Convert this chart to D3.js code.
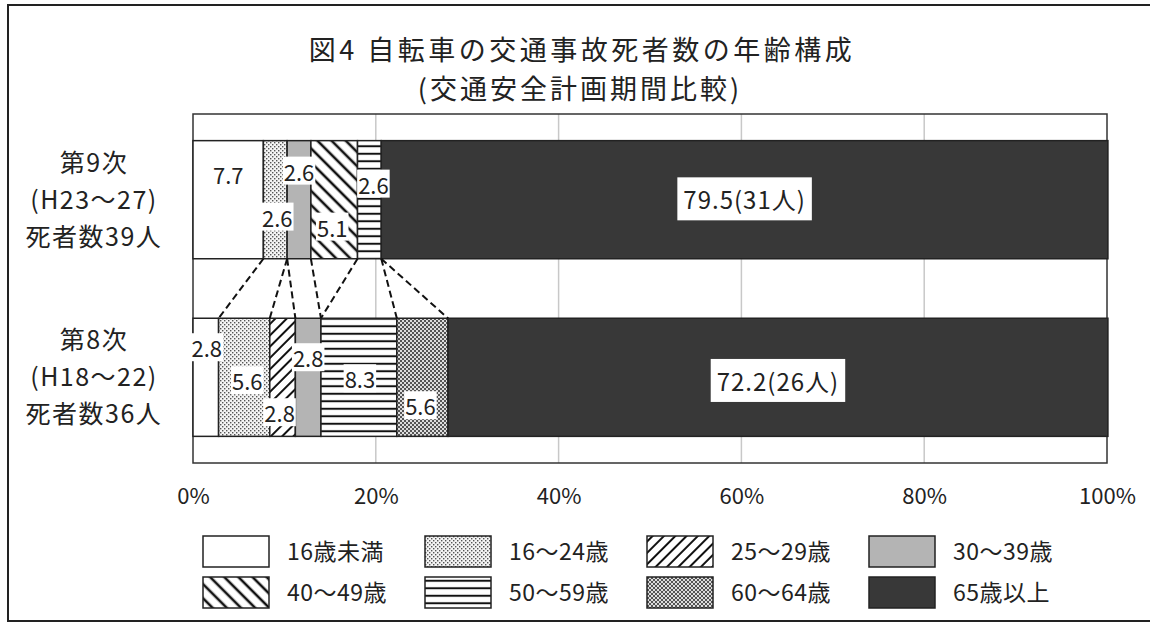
<!DOCTYPE html>
<meta charset="utf-8">
<body style="margin:0;background:#fff">
<script src="https://d3js.org/d3.v7.min.js"></script>
<script>

// Data: share of cyclist deaths by age group (%), per traffic safety plan period.

var periods = ["第9次", "第8次"];
var periodLines = [
    ["第9次", "(H23～27)", "死者数39人"],
    ["第8次", "(H18～22)", "死者数36人"]
];
var ageGroups = ["16歳未満", "16～24歳", "25～29歳", "30～39歳", "40～49歳", "50～59歳", "60～64歳", "65歳以上"];
var values9 = [7.7, 2.6, 0, 2.6, 5.1, 2.6, 0, 79.5];
var values8 = [2.8, 5.6, 2.8, 2.8, 0, 8.3, 5.6, 72.2];
var lastLabels = ["79.5(31人)", "72.2(26人)"];
var xTicks = [0, 20, 40, 60, 80, 100];

// Hand placed label nudges (px from segment centre), like the moved labels in the original.
var nudge9 = [[0, -24], [2, 19], null, [0, -27], [-2, 29], [4, -14], null, [0, 1]];
var nudge8 = [[1, -28], [3, 5], [-3, 37], [0, -18], null, [1, 3], [-2, 30], [0, 5]];

var width = 1150,
    height = 623;

var svg = d3.select("body").append("svg")
    .attr("width", width)
    .attr("height", height)
    .style("font-family", "'Noto Sans CJK JP', sans-serif");

// Patterns for the age groups.

var defs = svg.append("defs");

function linePattern(id, angle, gap, sw) {
    var p = defs.append("pattern")
        .attr("id", id)
        .attr("patternUnits", "userSpaceOnUse")
        .attr("width", gap)
        .attr("height", gap)
        .attr("patternTransform", "rotate(" + angle + ")");
    p.append("rect").attr("width", gap).attr("height", gap).attr("fill", "#fff");
    p.append("line")
        .attr("x1", gap / 2).attr("y1", 0)
        .attr("x2", gap / 2).attr("y2", gap)
        .attr("stroke", "#111")
        .attr("stroke-width", sw);
}

var dots = defs.append("pattern")
    .attr("id", "dots")
    .attr("patternUnits", "userSpaceOnUse")
    .attr("width", 4).attr("height", 4);
dots.append("rect").attr("width", 4).attr("height", 4).attr("fill", "#f4f4f4");
dots.append("rect").attr("x", 0).attr("y", 0).attr("width", 1.4).attr("height", 1.4).attr("fill", "#555");
dots.append("rect").attr("x", 2).attr("y", 2).attr("width", 1.4).attr("height", 1.4).attr("fill", "#555");

linePattern("fwd", 45, 8, 2);
linePattern("back", -45, 10, 2.6);
linePattern("horiz", 90, 7.5, 2);

var check = defs.append("pattern")
    .attr("id", "check")
    .attr("patternUnits", "userSpaceOnUse")
    .attr("width", 4).attr("height", 4);
check.append("rect").attr("width", 4).attr("height", 4).attr("fill", "#ddd");
check.append("rect").attr("x", 0).attr("y", 0).attr("width", 2).attr("height", 2).attr("fill", "#555");
check.append("rect").attr("x", 2).attr("y", 2).attr("width", 2).attr("height", 2).attr("fill", "#555");

var fills = ["#fff", "url(#dots)", "url(#fwd)", "#b4b4b4", "url(#back)", "url(#horiz)", "url(#check)", "#383838"];

// Outer frame.

svg.append("path")
    .attr("d", "M1150,5H8V621H1150")
    .attr("fill", "none")
    .attr("stroke", "#222")
    .attr("stroke-width", 2);

// Title.

svg.append("text")
    .attr("x", 582).attr("y", 60)
    .attr("text-anchor", "middle")
    .attr("font-size", 27)
    .attr("letter-spacing", 3.5)
    .attr("fill", "#222")
    .text("図4  自転車の交通事故死者数の年齢構成");

svg.append("text")
    .attr("x", 580).attr("y", 99)
    .attr("text-anchor", "middle")
    .attr("font-size", 27)
    .attr("letter-spacing", 3)
    .attr("fill", "#222")
    .text("(交通安全計画期間比較)");

// Scales.

var plot = {left: 193, right: 1107, top: 114, bottom: 463};

var x = d3.scaleLinear().domain([0, 100]).range([plot.left, plot.right]);
var y = d3.scaleBand().domain(periods).range([plot.top, plot.bottom])
    .paddingInner(0.335)
    .paddingOuter(0.15);

// Plot area and gridlines.

svg.append("rect")
    .attr("x", plot.left).attr("y", plot.top)
    .attr("width", plot.right - plot.left)
    .attr("height", plot.bottom - plot.top)
    .attr("fill", "#fff");

svg.append("g").selectAll("line")
    .data(xTicks.slice(1, -1))
    .join("line")
    .attr("x1", function(d) { return x(d); })
    .attr("x2", function(d) { return x(d); })
    .attr("y1", plot.top).attr("y2", plot.bottom)
    .attr("stroke", "#c8c8c8")
    .attr("stroke-width", 1.5);

svg.append("rect")
    .attr("x", plot.left).attr("y", plot.top)
    .attr("width", plot.right - plot.left)
    .attr("height", plot.bottom - plot.top)
    .attr("fill", "none")
    .attr("stroke", "#333")
    .attr("stroke-width", 1.5);

// Stack the values.

var rows = [values9, values8];
var nudges = [nudge9, nudge8];

var segs = [];
rows.forEach(function(vals, r) {
    var acc = 0;
    vals.forEach(function(v, i) {
        segs.push({row: r, i: i, v: v, x0: acc, x1: acc + v});
        acc += v;
    });
});

svg.append("g").selectAll("rect")
    .data(segs.filter(function(d) { return d.v > 0; }))
    .join("rect")
    .attr("x", function(d) { return x(d.x0); })
    .attr("width", function(d) { return x(d.x1) - x(d.x0); })
    .attr("y", function(d) { return y(periods[d.row]); })
    .attr("height", y.bandwidth())
    .attr("fill", function(d) { return fills[d.i]; })
    .attr("stroke", "#222")
    .attr("stroke-width", 1.5);

// Series lines between the two bars.

var ends9 = segs.filter(function(d) { return d.row == 0; });
var ends8 = segs.filter(function(d) { return d.row == 1; });

svg.append("g").selectAll("line")
    .data(d3.range(ageGroups.length - 1))
    .join("line")
    .attr("x1", function(i) { return x(ends9[i].x1); })
    .attr("y1", y(periods[0]) + y.bandwidth())
    .attr("x2", function(i) { return x(ends8[i].x1); })
    .attr("y2", y(periods[1]))
    .attr("stroke", "#111")
    .attr("stroke-width", 2)
    .attr("stroke-dasharray", "7,4");

// Data labels with white boxes.

var labels = svg.append("g");

segs.forEach(function(d) {
    if (d.v <= 0) return;
    var n = nudges[d.row][d.i];
    var big = d.i == ageGroups.length - 1;
    var cx = (x(d.x0) + x(d.x1)) / 2 + n[0];
    var cy = y(periods[d.row]) + y.bandwidth() / 2 + n[1];
    var g = labels.append("g").attr("transform", "translate(" + [cx, cy] + ")");
    var box = g.append("rect").attr("fill", "#fff");
    var t = g.append("text")
        .attr("text-anchor", "middle")
        .attr("dy", "0.36em")
        .attr("font-size", big ? 24 : 22)
        .attr("letter-spacing", big ? 1 : 0)
        .attr("fill", "#222")
        .text(big ? lastLabels[d.row] : d3.format(".1f")(d.v));
    var bb = t.node().getBBox();
    var px = big ? 6 : 1, py = big ? 6 : 0;
    box.attr("x", bb.x - px).attr("y", bb.y + 2 - py)
        .attr("width", bb.width + 2 * px)
        .attr("height", bb.height - 4 + 2 * py);
});

// Category labels.

svg.append("g").selectAll("g")
    .data(periodLines)
    .join("g")
    .each(function(lines, r) {
        var cy = y(periods[r]) + y.bandwidth() / 2;
        d3.select(this).selectAll("text")
            .data(lines)
            .join("text")
            .attr("x", 94)
            .attr("y", function(d, k) { return cy + (k - 1) * 37; })
            .attr("dy", "0.36em")
            .attr("text-anchor", "middle")
            .attr("font-size", 25)
            .attr("letter-spacing", 1.5)
            .attr("fill", "#222")
            .text(function(d) { return d; });
    });

// X axis.

var xAxis = svg.append("g")
    .attr("transform", "translate(0," + plot.bottom + ")")
    .call(d3.axisBottom(x)
        .tickValues(xTicks)
        .tickSize(0)
        .tickPadding(25)
        .tickFormat(function(d) { return d + "%"; }));

xAxis.select(".domain").remove();
xAxis.selectAll("text")
    .attr("font-size", 22)
    .attr("font-family", "'Noto Sans CJK JP', sans-serif")
    .attr("fill", "#222");

// Legend.

var legend = svg.append("g").selectAll("g")
    .data(ageGroups)
    .join("g")
    .attr("transform", function(d, i) {
        return "translate(" + [203 + (i % 4) * 222, 536 + Math.floor(i / 4) * 41] + ")";
    });

legend.append("rect")
    .attr("width", 66).attr("height", 31)
    .attr("fill", function(d, i) { return fills[i]; })
    .attr("stroke", "#222")
    .attr("stroke-width", 1.5);

legend.append("text")
    .attr("x", 84).attr("y", 15.5)
    .attr("dy", "0.36em")
    .attr("font-size", 23)
    .attr("letter-spacing", 0.5)
    .attr("fill", "#222")
    .text(function(d) { return d; });

</script>
